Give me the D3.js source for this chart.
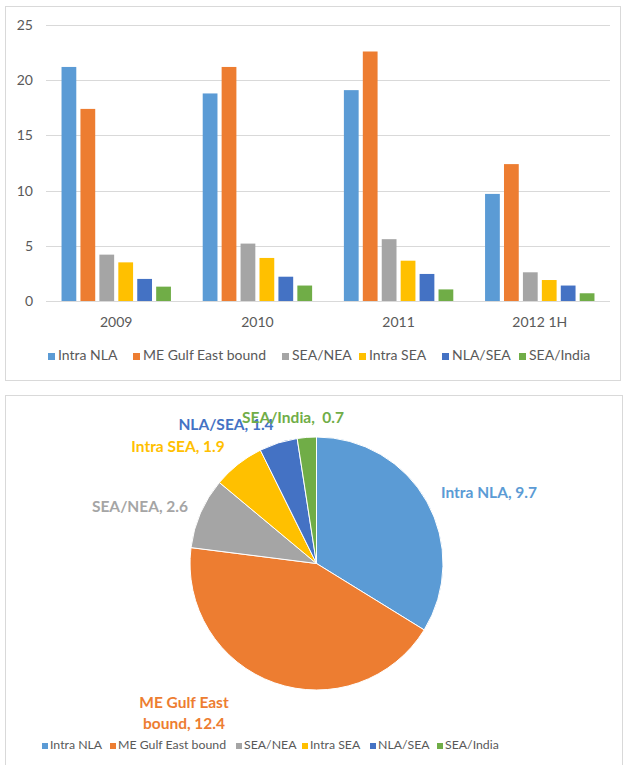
<!DOCTYPE html>
<html>
<head>
<meta charset="utf-8">
<script src="https://cdn.jsdelivr.net/npm/d3@7"></script>
<style>
  body { margin: 0; background: #fff; }
  text { font-family: Lato, "Open Sans", sans-serif; }
</style>
</head>
<body>
<script>
// chart data
var categories = ["2009", "2010", "2011", "2012 1H"];
var series_names = ["Intra NLA", "ME Gulf East bound", "SEA/NEA", "Intra SEA", "NLA/SEA", "SEA/India"];
var intra_nla = [21.2, 18.8, 19.1, 9.7];
var me_gulf = [17.4, 21.2, 22.6, 12.4];
var sea_nea = [4.2, 5.2, 5.6, 2.6];
var intra_sea = [3.5, 3.9, 3.65, 1.9];
var nla_sea = [2.0, 2.2, 2.45, 1.4];
var sea_india = [1.3, 1.4, 1.05, 0.7];
var y_ticks = [0, 5, 10, 15, 20, 25];

var pie_values = [9.7, 12.4, 2.6, 1.9, 1.4, 0.7];

var colors = ["#5B9BD5", "#ED7D31", "#A5A5A5", "#FFC000", "#4472C4", "#70AD47"];
var all_series = [intra_nla, me_gulf, sea_nea, intra_sea, nla_sea, sea_india];

var svg = d3.select("body").append("svg")
    .attr("width", 623).attr("height", 765);

// chart boxes
svg.append("rect").attr("x", 5.5).attr("y", 6.5).attr("width", 615).attr("height", 374)
    .attr("fill", "#fff").attr("stroke", "#d9d9d9");
svg.append("rect").attr("x", 5.5).attr("y", 395.5).attr("width", 617).attr("height", 380)
    .attr("fill", "#fff").attr("stroke", "#d9d9d9");

// ---- bar chart ----
var x0 = d3.scaleBand().domain(categories).range([46, 610]).paddingInner(0.225).paddingOuter(0.11);
var x1 = d3.scaleBand().domain(d3.range(series_names.length)).range([0, x0.bandwidth()]).paddingInner(0.22);
var y = d3.scaleLinear().domain([0, 25]).range([301, 25]);

var bar_g = svg.append("g");

// gridlines
bar_g.selectAll(".grid").data(y_ticks).enter().append("line")
    .attr("x1", 46).attr("x2", 610)
    .attr("y1", d => Math.round(y(d)) + 0.5).attr("y2", d => Math.round(y(d)) + 0.5)
    .attr("stroke", "#d9d9d9").attr("stroke-width", 1);

// y tick labels
bar_g.selectAll(".ylab").data(y_ticks).enter().append("text")
    .attr("x", 33).attr("y", d => y(d) + 5)
    .attr("text-anchor", "end")
    .attr("font-size", "14px").attr("fill", "#595959")
    .text(d => d);

// bars
categories.forEach(function (cat, ci) {
    var g = bar_g.append("g").attr("transform", "translate(" + x0(cat) + ",0)");
    g.selectAll("rect").data(all_series.map(s => s[ci])).enter().append("rect")
        .attr("x", (d, i) => x1(i))
        .attr("width", x1.bandwidth())
        .attr("y", d => y(d))
        .attr("height", d => y(0) - y(d))
        .attr("fill", (d, i) => colors[i]);
});

// category labels
bar_g.selectAll(".xlab").data(categories).enter().append("text")
    .attr("x", d => x0(d) + x0.bandwidth() / 2).attr("y", 327)
    .attr("text-anchor", "middle")
    .attr("font-size", "14px").attr("fill", "#595959")
    .text(d => d);

// legend helper
function draw_legend(parent, ly, xs, box, gap, fsize) {
    series_names.forEach(function (name, i) {
        parent.append("rect").attr("x", xs[i]).attr("y", ly - box).attr("width", box).attr("height", box)
            .attr("fill", colors[i]);
        parent.append("text").attr("x", xs[i] + gap).attr("y", ly)
            .attr("font-size", fsize).attr("fill", "#595959")
            .text(name);
    });
}
draw_legend(svg, 360, [48, 133, 282, 359, 442, 519], 7, 10, "14px");

// ---- pie chart ----
var cx = 316.5, cy = 563.5, radius = 126.5;
var pie_gen = d3.pie().sort(null).value(d => d);
var arc_gen = d3.arc().innerRadius(0).outerRadius(radius);
var pie_g = svg.append("g").attr("transform", "translate(" + cx + "," + cy + ")");
var arcs = pie_gen(pie_values);
pie_g.selectAll("path").data(arcs).enter().append("path")
    .attr("d", arc_gen)
    .attr("fill", (d, i) => colors[i])
    .attr("stroke", "#fff").attr("stroke-width", 1);

// pie labels (outside, placed near slices like Excel)
var label_pos = [
    { x: 489, y: 498, lines: ["Intra NLA, 9.7"] },
    { x: 184, y: 708, lines: ["ME Gulf East", "bound, 12.4"] },
    { x: 140, y: 512, lines: ["SEA/NEA, 2.6"] },
    { x: 178, y: 452, lines: ["Intra SEA, 1.9"] },
    { x: 226, y: 430, lines: ["NLA/SEA, 1.4"] },
    { x: 293, y: 423, lines: ["SEA/India, \u00a00.7"] }
];
label_pos.forEach(function (lp, i) {
    var t = svg.append("text").attr("x", lp.x).attr("y", lp.y)
        .attr("text-anchor", "middle")
        .attr("font-size", "15.5px").attr("font-weight", "bold")
        .attr("fill", colors[i]);
    lp.lines.forEach(function (ln, j) {
        t.append("tspan").attr("x", lp.x).attr("dy", j === 0 ? 0 : 21).text(ln);
    });
});

draw_legend(svg, 749, [42, 110, 236, 302, 370, 437], 6, 8, "12.3px");
</script>
</body>
</html>
